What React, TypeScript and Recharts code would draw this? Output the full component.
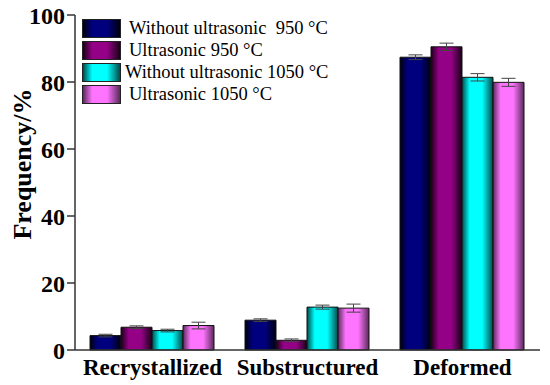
import { BarChart, Bar, XAxis, YAxis, ErrorBar } from "recharts";

const categories = ["Recrystallized", "Substructured", "Deformed"];
const noUs950 = [4.3, 8.9, 87.4];
const us950 = [6.8, 2.9, 90.5];
const noUs1050 = [5.8, 12.8, 81.4];
const us1050 = [7.3, 12.5, 79.9];
const errNoUs950 = [0.4, 0.4, 0.7];
const errUs950 = [0.4, 0.4, 1.1];
const errNoUs1050 = [0.4, 0.6, 1.1];
const errUs1050 = [1.0, 1.2, 1.2];
const yTicks = [0, 20, 40, 60, 80, 100];

const series = [
  { key: "a", name: "Without ultrasonic  950 \u00b0C", values: noUs950, errs: errNoUs950, dark: "#000010", light: "#00007e" },
  { key: "b", name: "Ultrasonic 950 \u00b0C", values: us950, errs: errUs950, dark: "#1a0018", light: "#940086" },
  { key: "c", name: "Without ultrasonic 1050 \u00b0C", values: noUs1050, errs: errNoUs1050, dark: "#004a4a", light: "#00ffff" },
  { key: "d", name: "Ultrasonic 1050 \u00b0C", values: us1050, errs: errUs1050, dark: "#5a2a5a", light: "#ff74ff" },
];

const data = categories.map((c, i) => {
  const row: Record<string, string | number> = { name: c };
  series.forEach((s) => {
    row[s.key] = s.values[i];
    row[s.key + "_err"] = s.errs[i];
  });
  return row;
});

const serif = "'Liberation Serif', 'Times New Roman', serif";

function cssGrad(s: { dark: string; light: string }) {
  return `linear-gradient(to right, ${s.dark} 0%, ${s.light} 25%, ${s.light} 65%, ${s.dark} 100%)`;
}

// legend drawn as an overlay so it doesn't steal room from the plot
function LegendBox() {
  return (
    <div style={{ position: "absolute", left: 82, top: 17, fontFamily: serif, fontSize: 18.5, lineHeight: "18px" }}>
      {series.map((s) => (
        <div key={s.key} style={{ display: "flex", alignItems: "center", height: 22 }}>
          <div style={{ width: 37, height: 17, background: cssGrad(s), border: "1px solid #222" }} />
          <span style={{ marginLeft: s.key === "c" ? 4 : 8, whiteSpace: "pre", color: "#000" }}>{s.name}</span>
        </div>
      ))}
    </div>
  );
}

export default function App() {
  return (
    <div style={{ position: "absolute", left: 0, top: 0, width: 550, height: 385, background: "#fff" }}>
      <BarChart
        width={550}
        height={385}
        data={data}
        margin={{ top: 15, right: 10, bottom: 0, left: 0 }}
        barCategoryGap={15}
        barGap={0}
      >
        <defs>
          {series.map((s) => (
            <linearGradient key={s.key} id={"g_" + s.key} x1="0" y1="0" x2="1" y2="0">
              <stop offset="0%" stopColor={s.dark} />
              <stop offset="25%" stopColor={s.light} />
              <stop offset="65%" stopColor={s.light} />
              <stop offset="100%" stopColor={s.dark} />
            </linearGradient>
          ))}
        </defs>
        <XAxis
          dataKey="name"
          height={35}
          interval={0}
          stroke="#333"
          strokeWidth={1.5}
          tickLine={false}
          tick={{ fill: "#000", fontSize: 23, fontWeight: "bold", fontFamily: serif }}
          tickMargin={3}
        />
        <XAxis xAxisId="top" orientation="top" dataKey="name" height={0} tick={false} tickLine={false} stroke="#333" strokeWidth={1.5} />
        <YAxis
          width={75}
          domain={[0, 100]}
          ticks={yTicks}
          tickSize={8}
          stroke="#333"
          strokeWidth={1.5}
          tick={{ fill: "#000", fontSize: 24, fontWeight: "bold", fontFamily: serif }}
          label={{
            content: () => (
              <text
                x={22}
                y={164}
                transform="rotate(-90 22 164)"
                textAnchor="middle"
                dominantBaseline="central"
                fontFamily={serif}
                fontWeight="bold"
                fontSize={26}
                fill="#000"
              >
                Frequency/%
              </text>
            ),
          }}
        />
        <YAxis yAxisId="right" orientation="right" width={0} domain={[0, 100]} tick={false} tickLine={false} stroke="#333" strokeWidth={1.5} />
        {series.map((s) => (
          <Bar
            key={s.key}
            dataKey={s.key}
            name={s.name}
            fill={`url(#g_${s.key})`}
            stroke="#111"
            strokeWidth={1}
            isAnimationActive={false}
          >
            <ErrorBar dataKey={s.key + "_err"} width={7} stroke="#444" strokeWidth={1} />
          </Bar>
        ))}
      </BarChart>
      <LegendBox />
    </div>
  );
}
